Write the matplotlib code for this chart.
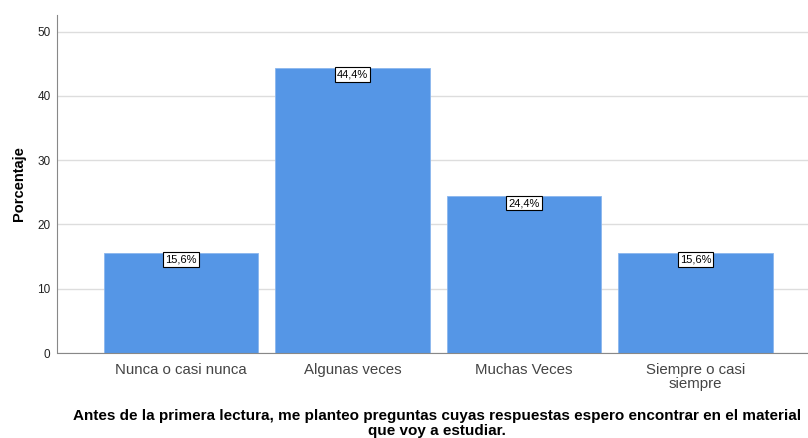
import matplotlib.pyplot as plt

plt.rcParams['font.family'] = ['Liberation Sans', 'DejaVu Sans']

# Data
categorias = ['Nunca o casi nunca', 'Algunas veces', 'Muchas Veces', 'Siempre o casi\nsiempre']
porcentajes = [15.6, 44.4, 24.4, 15.6]
yticks = [0, 10, 20, 30, 40, 50]
titulo = ['Antes de la primera lectura, me planteo preguntas cuyas respuestas espero encontrar en el material',
          'que voy a estudiar.']

fig = plt.figure(figsize=(8.08, 4.38), dpi=100)
ax = fig.add_axes([57.5 / 808, 85 / 438, 1 - 57.5 / 808, 338 / 438])

x = range(len(categorias))
ax.bar(x, porcentajes, width=0.9, color='#5596E6', edgecolor='#8AB6EE', linewidth=0.6, zorder=2)

# value labels in small boxes at the top of each bar
for i, v in enumerate(porcentajes):
    ax.text(i, v - 0.3, f'{v:.1f}%'.replace('.', ','), ha='center', va='top', fontsize=8,
            bbox=dict(boxstyle='square,pad=0.2', facecolor='white', edgecolor='black', linewidth=0.8),
            zorder=3)

ax.set_xlim(-0.72, 3.656)
ax.set_ylim(0, 52.6)
ax.set_yticks(yticks)
ax.set_yticklabels([str(t) for t in yticks], fontsize=8.5, color='#222222')
ax.set_xticks(list(x))
ax.set_xticklabels(categorias, fontsize=10.8, color='#444444', linespacing=1.05)
ax.tick_params(axis='x', length=0, pad=7)
ax.tick_params(axis='y', length=0, pad=5)

ax.yaxis.grid(True, color='#dddddd', linewidth=1, zorder=0)
ax.set_axisbelow(True)

for s in ['top', 'right']:
    ax.spines[s].set_visible(False)
ax.spines['left'].set_color('#888888')
ax.spines['bottom'].set_color('#888888')

ax.set_ylabel('Porcentaje', fontsize=10.5, fontweight='bold')
ax.yaxis.set_label_coords(-0.042, 0.5)

# two-line bold title under the axis
fig.text(437 / 808, 1 - 416 / 438, titulo[0], ha='center', va='center', fontsize=11, fontweight='bold')
fig.text(437 / 808, 1 - 431 / 438, titulo[1], ha='center', va='center', fontsize=11, fontweight='bold')

fig.savefig('out.png', dpi=100)
